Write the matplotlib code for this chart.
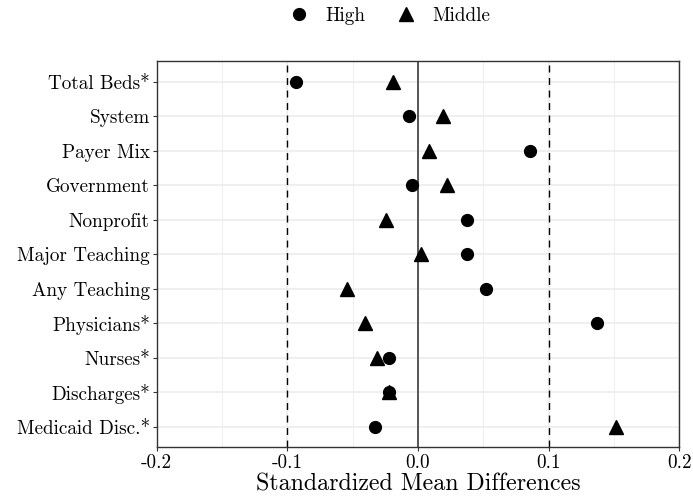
import numpy as np
import matplotlib
matplotlib.use('Agg')
import matplotlib.pyplot as plt
from matplotlib.lines import Line2D

plt.rcParams['font.family'] = ['cmr10', 'DejaVu Serif']
plt.rcParams['axes.unicode_minus'] = False
plt.rcParams['mathtext.fontset'] = 'cm'

variables = ['Total Beds*', 'System', 'Payer Mix', 'Government', 'Nonprofit',
             'Major Teaching', 'Any Teaching', 'Physicians*', 'Nurses*',
             'Discharges*', 'Medicaid Disc.*']
high = [-0.093, -0.0066, 0.086, -0.0045, 0.0374, 0.0377, 0.052, 0.1367,
        -0.0221, -0.0224, -0.033]
middle = [-0.0193, 0.0193, 0.0084, 0.0224, -0.0245, 0.0022, -0.0547,
          -0.0403, -0.0317, -0.0221, 0.1513]
xticks = [-0.2, -0.1, 0.0, 0.1, 0.2]
xticklabels = ['-0.2', '-0.1', '0.0', '0.1', '0.2']

fig = plt.figure(figsize=(6.93, 4.97), dpi=100)
ax = fig.add_axes([0.2261, 0.0996, 0.9802 - 0.2261, 0.8773 - 0.0996])

n = len(variables)
ypos = np.arange(n)[::-1] + 1

ax.set_xlim(-0.2, 0.2)
ax.set_ylim(0.4, n + 0.6)

# grid
for v in [-0.15, -0.05, 0.05, 0.15]:
    ax.axvline(v, color='#ebebeb', lw=0.6, zorder=0)
for v in xticks:
    ax.axvline(v, color='#ebebeb', lw=1.1, zorder=0)
for y in ypos:
    ax.axhline(y, color='#ebebeb', lw=1.1, zorder=0)

ax.axvline(0, color='#555555', lw=1.4, zorder=1)
ax.axvline(-0.1, color='black', lw=1.0, ls=(0, (5, 4)), zorder=1)
ax.axvline(0.1, color='black', lw=1.0, ls=(0, (5, 4)), zorder=1)

ax.plot(high, ypos, 'o', color='black', ms=8.5, zorder=3, label='High')
ax.plot(middle, ypos, '^', color='black', ms=10, zorder=3, label='Middle')

ax.set_yticks(ypos)
ax.set_yticklabels(variables, fontsize=13.8)
ax.set_xticks(xticks)
ax.set_xticklabels(xticklabels, fontsize=13.8)
ax.tick_params(length=3, width=0.8, color='#333333', pad=2)
for s in ax.spines.values():
    s.set_color('#333333')
    s.set_linewidth(1.0)

ax.set_xlabel('Standardized Mean Differences', fontsize=17.2, labelpad=1)

handles = [Line2D([], [], marker='o', ls='', color='black', ms=8.5),
           Line2D([], [], marker='^', ls='', color='black', ms=10)]
fig.legend(handles, ['High', 'Middle'], loc='center', ncol=2,
           bbox_to_anchor=(385 / 693, 1 - 16 / 497), frameon=False,
           fontsize=13.8, handletextpad=0.4, columnspacing=1.1)

fig.savefig('out.png', dpi=100)
